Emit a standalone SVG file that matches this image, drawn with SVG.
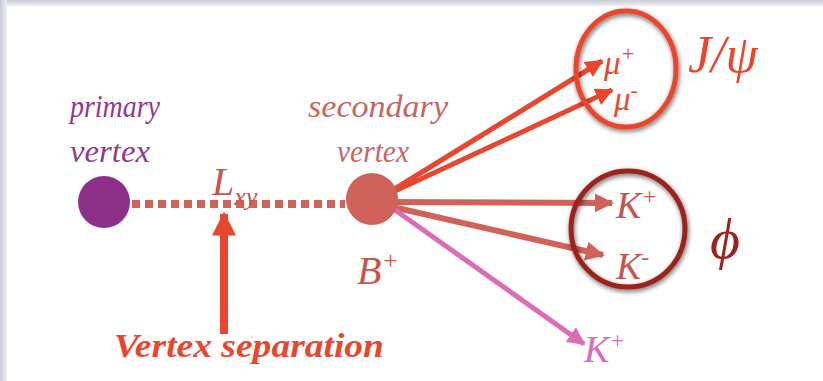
<svg xmlns="http://www.w3.org/2000/svg" width="823" height="381" viewBox="0 0 823 381">
<style>
.t{font-family:"Liberation Serif","DejaVu Serif",serif;font-style:italic}
.pv{fill:#8e3a8c;font-size:31px}
.sv{fill:#c9655f;font-size:31px}
</style>
<defs>
<linearGradient id="topg" x1="0" y1="0" x2="0" y2="1"><stop offset="0" stop-color="#c9ccd2"/><stop offset="1" stop-color="#eef0f3"/></linearGradient>
<linearGradient id="leftg" x1="0" y1="0" x2="1" y2="0"><stop offset="0" stop-color="#c9ccd2"/><stop offset="1" stop-color="#eef0f3"/></linearGradient>
<filter id="sh" x="-20%" y="-20%" width="140%" height="140%"><feGaussianBlur in="SourceAlpha" stdDeviation="2.5"/><feOffset dx="1" dy="2"/><feComponentTransfer><feFuncA type="linear" slope="0.6"/></feComponentTransfer><feMerge><feMergeNode/><feMergeNode in="SourceGraphic"/></feMerge></filter>
<marker id="mOr" viewBox="0 0 10 10" refX="9" refY="5" markerWidth="3.6" markerHeight="3.6" orient="auto" markerUnits="strokeWidth"><path d="M0,0L10,5L0,10z" fill="#e8472f"/></marker>
<marker id="mRs" viewBox="0 0 10 10" refX="9" refY="5" markerWidth="3.2" markerHeight="3.2" orient="auto" markerUnits="strokeWidth"><path d="M0,0L10,5L0,10z" fill="#d0625a"/></marker>
<marker id="mPk" viewBox="0 0 10 10" refX="9" refY="5" markerWidth="3.6" markerHeight="3.6" orient="auto" markerUnits="strokeWidth"><path d="M0,0L10,5L0,10z" fill="#db6cb5"/></marker>
<marker id="mUp" viewBox="0 0 10 10" refX="9" refY="5" markerWidth="3" markerHeight="3" orient="auto" markerUnits="strokeWidth"><path d="M0,0L10,5L0,10z" fill="#e8472f"/></marker>
</defs>
<rect width="823" height="381" fill="#ffffff"/>
<rect x="0" y="0" width="823" height="6" fill="url(#topg)"/>
<rect x="0" y="0" width="7" height="381" fill="url(#leftg)"/>

<g id="connectors" fill="none">
<line x1="132" y1="204" x2="345" y2="204" stroke="#d0625a" stroke-width="8" stroke-dasharray="8,5"/>
<line x1="224" y1="334" x2="224" y2="214" stroke="#e8472f" stroke-width="8" marker-end="url(#mUp)"/>
<line x1="380" y1="198" x2="602" y2="61" stroke="#e8472f" stroke-width="5" marker-end="url(#mOr)"/>
<line x1="380" y1="198" x2="612" y2="90" stroke="#e8472f" stroke-width="5" marker-end="url(#mOr)"/>
<line x1="384" y1="202" x2="612" y2="203" stroke="#d0625a" stroke-width="6" marker-end="url(#mRs)"/>
<line x1="384" y1="205" x2="603" y2="255" stroke="#d0625a" stroke-width="6" marker-end="url(#mRs)"/>
<line x1="388" y1="205" x2="584" y2="344" stroke="#db6cb5" stroke-width="5" marker-end="url(#mPk)"/>
</g>

<g id="primary-vertex">
<circle cx="104" cy="202" r="26" fill="#8e2f8a"/>
<text class="t pv" x="70" y="117" textLength="90" lengthAdjust="spacingAndGlyphs">primary</text>
<text class="t pv" x="70" y="162" textLength="80" lengthAdjust="spacingAndGlyphs">vertex</text>
</g>

<g id="secondary-vertex">
<circle cx="372" cy="199" r="26" fill="#d0625a"/>
<text class="t sv" x="308" y="117" textLength="140" lengthAdjust="spacingAndGlyphs">secondary</text>
<text class="t sv" x="337" y="162" textLength="72" lengthAdjust="spacingAndGlyphs">vertex</text>
<text class="t" x="357" y="284" fill="#c8554d" font-size="40">B<tspan font-size="26" dy="-15">+</tspan></text>
</g>

<g id="lxy">
<text class="t" x="212" y="195" fill="#c8554d" font-size="40">L<tspan font-size="26" dy="10">xy</tspan></text>
</g>

<g id="vertex-separation">
<text x="114" y="357" fill="#e8472f" font-family="Liberation Serif, DejaVu Serif, serif" font-style="italic" font-weight="bold" font-size="33" textLength="270" lengthAdjust="spacingAndGlyphs">Vertex separation</text>
</g>

<g id="jpsi">
<ellipse cx="626" cy="69" rx="50" ry="58" fill="none" stroke="#e8472f" stroke-width="5" filter="url(#sh)"/>
<text class="t" x="604" y="74" fill="#e8472f" font-size="33">μ<tspan font-size="22" dy="-13">+</tspan></text>
<text class="t" x="614" y="110" fill="#e8472f" font-size="33">μ<tspan font-size="22" dy="-13">-</tspan></text>
<text class="t" x="688" y="72" fill="#e8472f" font-size="52" font-weight="normal">J/ψ</text>
</g>

<g id="phi">
<ellipse cx="628" cy="229" rx="57" ry="58" fill="none" stroke="#9c231e" stroke-width="5" filter="url(#sh)"/>
<text class="t" x="616" y="218" fill="#c8554d" font-size="38">K<tspan font-size="24" dy="-14">+</tspan></text>
<text class="t" x="616" y="279" fill="#c8554d" font-size="38">K<tspan font-size="24" dy="-14">-</tspan></text>
<text class="t" x="710" y="258" fill="#9c231e" font-size="58">ϕ</text>
</g>

<g id="k-plus">
<text class="t" x="584" y="362" fill="#db6cb5" font-size="38">K<tspan font-size="24" dy="-14">+</tspan></text>
</g>
</svg>
